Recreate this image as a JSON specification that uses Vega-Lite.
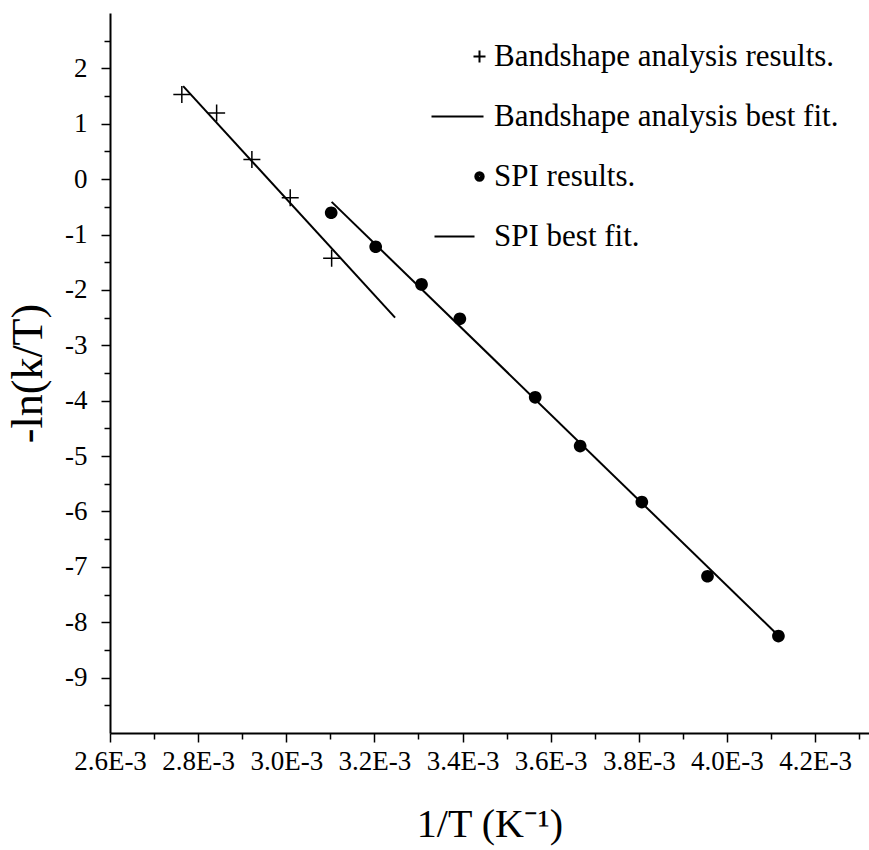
{
  "$schema": "https://vega.github.io/schema/vega-lite/v6.json",
  "width": 759,
  "height": 720,
  "autosize": "none",
  "padding": {"left": 110, "top": 13, "right": 0, "bottom": 117},
  "background": "white",
  "config": {
    "view": {"stroke": null},
    "font": "Liberation Serif",
    "axis": {
      "grid": false,
      "domainColor": "black",
      "domainWidth": 2,
      "tickColor": "black",
      "tickWidth": 1.5,
      "labelFont": "Liberation Serif",
      "labelFontSize": 27,
      "labelColor": "black",
      "titleFont": "Liberation Serif",
      "titleFontWeight": "normal",
      "titleColor": "black"
    },
    "legend": {
      "title": null,
      "orient": "none",
      "legendX": 354,
      "legendY": 28,
      "padding": 0,
      "labelFont": "Liberation Serif",
      "labelFontSize": 31,
      "labelColor": "black",
      "labelLimit": 0,
      "labelOffset": -1,
      "symbolSize": 144,
      "symbolStrokeWidth": 2,
      "symbolStrokeColor": "black",
      "symbolOpacity": 1,
      "rowPadding": 28
    }
  },
  "data": {
    "values": [
      {"x": 0.002763, "y": 1.53, "series": "Bandshape analysis results.", "kind": "cross"},
      {"x": 0.002842, "y": 1.195, "series": "Bandshape analysis results.", "kind": "cross"},
      {"x": 0.002922, "y": 0.355, "series": "Bandshape analysis results.", "kind": "cross"},
      {"x": 0.003009, "y": -0.337, "series": "Bandshape analysis results.", "kind": "cross"},
      {"x": 0.003103, "y": -1.43, "series": "Bandshape analysis results.", "kind": "cross"},
      {"x": 0.003102, "y": -0.607, "series": "SPI results.", "kind": "dot"},
      {"x": 0.003203, "y": -1.22, "series": "SPI results.", "kind": "dot"},
      {"x": 0.003307, "y": -1.90, "series": "SPI results.", "kind": "dot"},
      {"x": 0.003394, "y": -2.52, "series": "SPI results.", "kind": "dot"},
      {"x": 0.003565, "y": -3.94, "series": "SPI results.", "kind": "dot"},
      {"x": 0.003667, "y": -4.82, "series": "SPI results.", "kind": "dot"},
      {"x": 0.003807, "y": -5.83, "series": "SPI results.", "kind": "dot"},
      {"x": 0.003956, "y": -7.17, "series": "SPI results.", "kind": "dot"},
      {"x": 0.004117, "y": -8.25, "series": "SPI results.", "kind": "dot"},
      {"x": 0.002766, "y": 1.68, "series": "Bandshape analysis best fit.", "kind": "fit"},
      {"x": 0.003247, "y": -2.50, "series": "Bandshape analysis best fit.", "kind": "fit"},
      {"x": 0.003103, "y": -0.41, "series": "SPI best fit.", "kind": "fit"},
      {"x": 0.004109, "y": -8.18, "series": "SPI best fit.", "kind": "fit"}
    ]
  },
  "encoding": {
    "x": {
      "field": "x",
      "type": "quantitative",
      "scale": {"domain": [0.0026, 0.0043225], "nice": false, "zero": false},
      "axis": {
        "title": "1/T (K⁻¹)",
        "titleFontSize": 40,
        "values": [0.0026, 0.0027, 0.0028, 0.0029, 0.0030, 0.0031, 0.0032, 0.0033, 0.0034, 0.0035, 0.0036, 0.0037, 0.0038, 0.0039, 0.0040, 0.0041, 0.0042, 0.0043],
        "labelExpr": "round(datum.value*10000) % 2 === 0 ? format(datum.value*1000, '.1f') + 'E-3' : ''",
        "tickSize": {"condition": {"test": "round(datum.value*10000) % 2 === 0", "value": 9}, "value": 6},
        "labelPadding": 6,
        "labelFlush": false,
        "labelOverlap": false,
        "titlePadding": 30
      }
    },
    "y": {
      "field": "y",
      "type": "quantitative",
      "scale": {"domain": [-10, 3], "nice": false, "zero": false},
      "axis": {
        "title": "-ln(k/T)",
        "titleFontSize": 44,
        "values": [-9.5, -9, -8.5, -8, -7.5, -7, -6.5, -6, -5.5, -5, -4.5, -4, -3.5, -3, -2.5, -2, -1.5, -1, -0.5, 0, 0.5, 1, 1.5, 2, 2.5],
        "labelExpr": "datum.value % 1 === 0 ? (datum.value < 0 ? '-' : '') + abs(datum.value) : ''",
        "tickSize": {"condition": {"test": "datum.value % 1 === 0", "value": 9}, "value": 6},
        "labelPadding": 14,
        "labelOverlap": false,
        "labelFlush": false,
        "titlePadding": 14
      }
    }
  },
  "layer": [
    {
      "transform": [{"filter": "datum.kind === 'fit'"}],
      "mark": {"type": "line", "color": "black", "strokeWidth": 2},
      "encoding": {"detail": {"field": "series"}}
    },
    {
      "transform": [{"filter": "datum.kind === 'cross'"}],
      "mark": {"type": "point", "filled": false, "color": "black", "strokeWidth": 1.5, "size": 289, "opacity": 1},
      "encoding": {
        "shape": {
          "field": "series",
          "type": "nominal",
          "scale": {
            "domain": ["Bandshape analysis results.", "Bandshape analysis best fit.", "SPI results.", "SPI best fit."],
            "range": [
              "M-1,0L1,0M0,-1L0,1",
              "M-8,0L0.67,0",
              "M0.7,0A0.7,0.7 0 1,1 -0.7,0A0.7,0.7 0 1,1 0.7,0ZM0.4,0A0.4,0.4 0 1,1 -0.4,0A0.4,0.4 0 1,1 0.4,0ZM0.1,0A0.1,0.1 0 1,1 -0.1,0A0.1,0.1 0 1,1 0.1,0Z",
              "M-7.5,0L-0.83,0"
            ]
          }
        }
      }
    },
    {
      "transform": [{"filter": "datum.kind === 'dot'"}],
      "mark": {"type": "point", "filled": true, "color": "black", "size": 329, "opacity": 1},
      "encoding": {
        "shape": {"field": "series", "type": "nominal"}
      }
    }
  ]
}
